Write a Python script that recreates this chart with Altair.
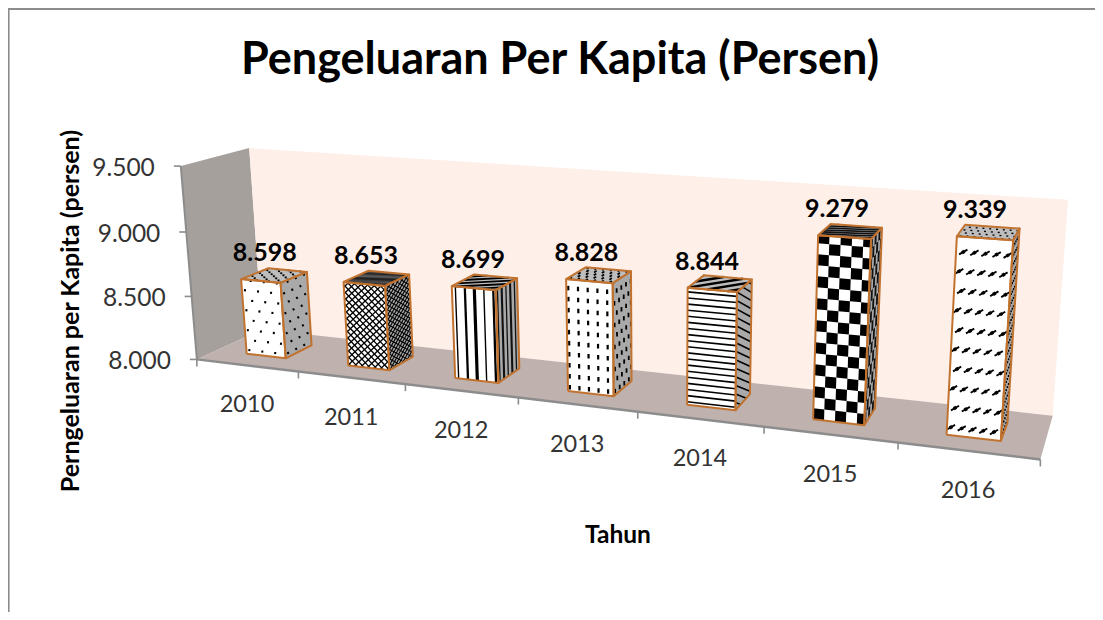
import altair as alt
import numpy as np
import pandas as pd

alt.data_transformers.disable_max_rows()

years = ["2010", "2011", "2012", "2013", "2014", "2015", "2016"]
values = [8598, 8653, 8699, 8828, 8844, 9279, 9339]
y_ticks = [8000, 8500, 9000, 9500]
title = "Pengeluaran Per Kapita (Persen)"
y_title = "Perngeluaran per Kapita  (persen)"
x_title = "Tahun"

W, H = 1087, 604
ORANGE = "#C0722E"
GRID = "#8C8C8C"

# 3D frame -> picture: camera fitted to the corners of the chart box
corners = [((0, 0, 0), (197, 360)), ((7, 0, 0), (1040, 460)), ((0, 0, 1), (262, 329)),
           ((7, 0, 1), (1053, 415)), ((0, 1, 0), (181, 165)), ((0, 1, 1), (249, 149)),
           ((7, 1, 1), (1068, 200))]
A, b = [], []
for (u, v, w), (px, py) in corners:
    A.append([u, v, w, 1, 0, 0, 0, 0, -px*u, -px*v, -px*w]); b.append(px)
    A.append([0, 0, 0, 0, u, v, w, 1, -py*u, -py*v, -py*w]); b.append(py)
P = np.append(np.linalg.lstsq(np.array(A, float), np.array(b, float), rcond=None)[0], 1).reshape(3, 4)


def proj(u, val, w):
    h = P @ np.array([u, (val - 8000) / 1500, w, 1.0])
    return float(h[0] / h[2]), float(h[1] / h[2])


fills, strokes, edges = [], [], []
pid = [0]


def add(rows, pts, **kw):
    pid[0] += 1
    for k, (x, y) in enumerate(pts):
        rows.append(dict(x=x, y=y, o=k, id=pid[0], **kw))


class Face:
    def __init__(self, p00, p10, p01, p11):
        self.c = [np.array(proj(*p)) for p in (p00, p10, p01, p11)]
        self.w = float(np.linalg.norm(self.c[1] - self.c[0]))
        self.h = float(np.linalg.norm(self.c[2] - self.c[0]))

    def at(self, s, t):
        fs, ft = s / self.w, t / self.h
        c = self.c
        return tuple((1-fs)*(1-ft)*c[0] + fs*(1-ft)*c[1] + (1-fs)*ft*c[2] + fs*ft*c[3])

    def outline(self):
        return [tuple(self.c[0]), tuple(self.c[1]), tuple(self.c[3]), tuple(self.c[2]), tuple(self.c[0])]

    def seg(self, x0, y0, x1, y1, sw=1.0, col="#000000"):
        t0, t1 = 0.0, 1.0
        dx, dy = x1-x0, y1-y0
        for p, q in ((-dx, x0), (dx, self.w-x0), (-dy, y0), (dy, self.h-y0)):
            if p == 0:
                if q < 0:
                    return
            else:
                r = q/p
                if p < 0:
                    t0 = max(t0, r)
                else:
                    t1 = min(t1, r)
        if t0 >= t1:
            return
        add(strokes, [self.at(x0+t0*dx, y0+t0*dy), self.at(x0+t1*dx, y0+t1*dy)], sw=sw, c=col)

    def hatch(self, dx, dy, gap, sw=1.0, col="#000000"):
        n = np.hypot(dx, dy); dx, dy = dx/n, dy/n
        L = self.w + self.h
        for k in np.arange(-L, L, gap):
            cx, cy = self.w/2 - dy*k, self.h/2 + dx*k
            self.seg(cx-dx*L, cy-dy*L, cx+dx*L, cy+dy*L, sw, col)

    def marks(self, gx, gy, ln, sw, ang=90, stagger=0.0, col="#000000", x0=2.0, y0=2.0):
        a = np.radians(ang)
        dx, dy = np.cos(a)*ln/2, np.sin(a)*ln/2
        row = 0
        t = y0
        while t < self.h:
            s = x0 + (row % 2)*stagger
            while s < self.w:
                self.seg(s-dx, t-dy, s+dx, t+dy, sw, col)
                s += gx
            t += gy
            row += 1

    def checks(self, cw, ch, col="#000000"):
        nx, ny = int(self.w/cw)+1, int(self.h/ch)+1
        for i in range(nx):
            for j in range(ny):
                if (i+j) % 2 == 0:
                    s0, s1 = i*cw, min((i+1)*cw, self.w)
                    t0, t1 = j*ch, min((j+1)*ch, self.h)
                    add(fills, [self.at(s0, t0), self.at(s1, t0), self.at(s1, t1), self.at(s0, t1), self.at(s0, t0)], c=col)


HALF = 0.195
W0, W1 = 0.29, 0.71
GREY_SIDE, GREY_TOP = "#A9A9A9", "#BDBDBD"


def draw_pattern(i, front, side, top):
    if i == 0:
        front.marks(13, 10, 2, 2.2, 0, 6.5, x0=3, y0=4)
        side.marks(9, 10, 2, 2.2, 0, 4.5, x0=3, y0=4)
        top.marks(12, 4, 2, 1.8, 0, 6, x0=3, y0=1)
    elif i == 1:
        front.hatch(1, 1, 4.6, 1.3); front.hatch(1, -1, 4.6, 1.3)
        side.hatch(1, 1, 3.5, 1.1); side.hatch(1, -1, 3.5, 1.1)
        top.hatch(4, 1, 3, 1.2, "#222222")
    elif i == 2:
        for k, s in enumerate(np.arange(3.5, front.w, 9.4)):
            front.seg(s, 0, s, front.h, 1.4 + (k % 3)*0.9)
        for k, s in enumerate(np.arange(2, side.w, 5.0)):
            side.seg(s, 0, s, side.h, 1.3 + (k % 2)*0.8, "#111111")
        top.hatch(3, 1, 7, 1.8)
    elif i == 3:
        front.marks(9.6, 11, 4.5, 2.2, 90, 0, x0=2, y0=4)
        side.marks(6, 11, 4.5, 1.8, 90, 3, x0=2, y0=4)
        top.marks(8, 5, 3, 1.8, 90, 4, x0=3, y0=2)
    elif i == 4:
        for t in np.arange(3, front.h, 6.1):
            front.seg(0, t, front.w, t, 1.6)
        side.hatch(1, -1, 6, 1.6)
        top.hatch(2, 1, 9, 2.4)
    elif i == 5:
        front.checks(11, 11)
        side.checks(3.5, 11, "#111111")
        top.hatch(6, 1, 3, 1.6, "#111111")
    else:
        front.marks(10.8, 19.5, 9.5, 1.9, 35, 3, x0=4, y0=8)
        front.marks(10.8, 19.5, 3, 3.4, 35, 3, x0=4, y0=8)
        side.marks(3.5, 10, 2, 1.5, 90, 1.5, x0=1, y0=4)
        top.marks(7, 3.5, 2, 1.4, 0, 3.5, x0=3, y0=1)


# walls and floor
for pts, col in [
    ([proj(0, 8000, 0), proj(0, 9500, 0), proj(0, 9500, 1), proj(0, 8000, 1), proj(0, 8000, 0)], "#A6A09D"),
    ([proj(0, 8000, 1), proj(0, 9500, 1), proj(7, 9500, 1), proj(7, 8000, 1), proj(0, 8000, 1)], "#FEEFE8"),
    ([proj(0, 8000, 0), proj(0, 8000, 1), proj(7, 8000, 1), proj(7, 8000, 0), proj(0, 8000, 0)], "#BFB2AE"),
]:
    add(fills, pts, c=col)

axes = []
add(axes, [(8.6, 8), (8.6, 8 + H)], sw=2.0, c=GRID)
add(axes, [(8, 9), (8 + W, 9)], sw=2.0, c=GRID)
add(axes, [proj(0, 8000, 0), proj(0, 9500, 0)], sw=2.0, c=GRID)
add(axes, [proj(0, 8000, 0), proj(7, 8000, 0)], sw=2.4, c=GRID)
for k in range(8):
    x, y = proj(k, 8000, 0)
    add(axes, [(x, y), (x, y + 7)], sw=1.6, c=GRID)
for val in y_ticks:
    x, y = proj(0, val, 0)
    add(axes, [(x, y), (x - 7, y)], sw=1.6, c=GRID)

label_rows, year_rows = [], []
for i, val in enumerate(values):
    a, b2 = i + 0.5 - HALF, i + 0.5 + HALF
    front = Face((a, 8000, W0), (b2, 8000, W0), (a, val, W0), (b2, val, W0))
    side = Face((b2, 8000, W0), (b2, 8000, W1), (b2, val, W0), (b2, val, W1))
    top = Face((a, val, W0), (b2, val, W0), (a, val, W1), (b2, val, W1))
    add(fills, side.outline(), c=GREY_SIDE)
    add(fills, top.outline(), c=GREY_TOP)
    add(fills, front.outline(), c="#FFFFFF")
    draw_pattern(i, front, side, top)
    for f in (side, top, front):
        add(edges, f.outline(), sw=2.0, c=ORANGE)
    tx, ty = proj(i + 0.5, val, W0)
    label_rows.append(dict(x=tx + 4 - 2.3*i, y=ty - 28, t=f"{val//1000}.{val%1000:03d}"))
    fx, fy = proj(i + 0.5, 8000, 0)
    year_rows.append(dict(x=fx, y=fy + 40, t=years[i]))

ytick_rows = []
for val in y_ticks:
    x, y = proj(0, val, 0)
    ytick_rows.append(dict(x=x - 26, y=y + 3, t=f"{val//1000}.{val%1000:03d}"))

X = alt.X("x:Q", axis=None, scale=alt.Scale(domain=[8, 8 + W], range=[0, W], nice=False, zero=False))
Y = alt.Y("y:Q", axis=None, scale=alt.Scale(domain=[8, 8 + H], range=[0, H], nice=False, zero=False))
F = "Lato"


def poly_layer(rows):
    return alt.Chart(pd.DataFrame(rows)).mark_line(strokeWidth=0, interpolate="linear").encode(
        X, Y, order="o:Q", detail="id:N", fill=alt.Fill("c:N", scale=None))


def line_layer(rows, **mk):
    return alt.Chart(pd.DataFrame(rows)).mark_line(interpolate="linear", **mk).encode(
        X, Y, order="o:Q", detail="id:N",
        stroke=alt.Stroke("c:N", scale=None), strokeWidth=alt.StrokeWidth("sw:Q", scale=None))


def text_layer(rows, size, col, weight="normal", align="center", angle=0):
    return alt.Chart(pd.DataFrame(rows)).mark_text(
        font=F, fontSize=size, color=col, fontWeight=weight, align=align, baseline="middle", angle=angle
    ).encode(X, Y, text="t:N")


chart = alt.layer(
    poly_layer(fills),
    line_layer(strokes),
    line_layer(edges, strokeJoin="round"),
    line_layer(axes),
    text_layer(label_rows, 25, "#000000", "bold"),
    text_layer(year_rows, 23.5, "#333333"),
    text_layer(ytick_rows, 24.5, "#333333", align="right"),
    text_layer([dict(x=560, y=60, t=title)], 45, "#000000", "bold"),
    text_layer([dict(x=71, y=311, t=y_title)], 25, "#000000", "bold", angle=270),
    text_layer([dict(x=618, y=536, t=x_title)], 24.5, "#000000", "bold"),
).properties(width=W, height=H, padding=0, autosize=alt.AutoSizeParams(type="none"), background="#FFFFFF"
).configure_view(stroke=None)

chart.save("out.html", embed_options={"renderer": "svg", "actions": False})
